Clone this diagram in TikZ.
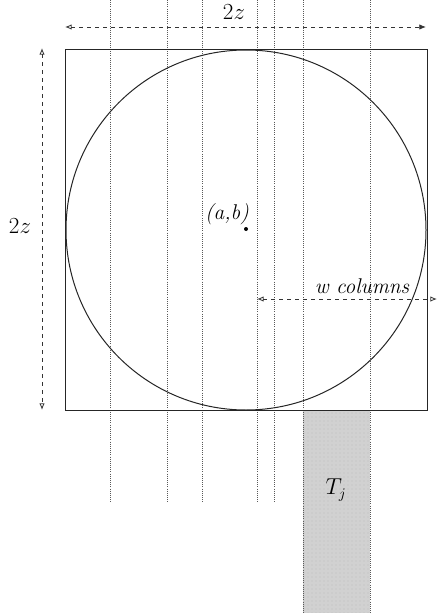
\documentclass[tikz,border=0pt]{standalone}
\usetikzlibrary{arrows.meta,patterns}
\begin{document}
\begin{tikzpicture}[x=0.75pt,y=-0.75pt,
  gridline/.style={densely dotted,black!65,line width=0.6pt},
  dimarrow/.style={dashed,line width=0.6pt,black!80},
  lbl/.style={font=\fontsize{16}{18}\selectfont,inner sep=1pt},
  outline/.style={line width=0.75pt,black!85}]
\useasboundingbox (0,0) rectangle (437,613);
% shaded column T_j
\fill[black!18] (303,410) rectangle (370,613);
\fill[pattern=dots,pattern color=black!25] (303,410) rectangle (370,613);
% vertical dotted column lines
\foreach \x in {110,167,202,257,274} \draw[gridline] (\x,0) -- (\x,503);
\foreach \x in {303,370} \draw[gridline] (\x,0) -- (\x,613);
% square and circle
\draw[outline] (65,50) rectangle (427,410);
\draw[outline] (246,230) circle[radius=180];
% coordinates
\coordinate (tl) at (65,27); \coordinate (tr) at (426,27);
\coordinate (lt) at (42,48); \coordinate (lb) at (42,410);
\coordinate (wl) at (257,299); \coordinate (wr) at (437,299);
% dimension arrows
\draw[dimarrow,{Latex[open,length=5pt,width=4pt]}-{Latex[length=5pt,width=4pt]}] (tl) -- (tr);
\draw[dimarrow,{Latex[open,length=5pt,width=4pt]}-{Latex[open,length=5pt,width=4pt]}] (lt) -- (lb);
\draw[dimarrow,{Latex[open,length=5pt,width=4pt]}-{Latex[open,length=5pt,width=4pt]}] (wl) -- (wr);
% labels
\node[lbl] (topz) at (234,12) {$2z$};
\node[lbl] (leftz) at (20,226) {$2z$};
\node[lbl] (ab) at (227,214) {\itshape (a,b)};
\fill (246,229) circle[radius=1.5pt];
\node[lbl] (wcol) at (362,286) {\itshape w columns};
\node[lbl] (tj) at (336,490) {$T_j$};
\end{tikzpicture}
\end{document}
